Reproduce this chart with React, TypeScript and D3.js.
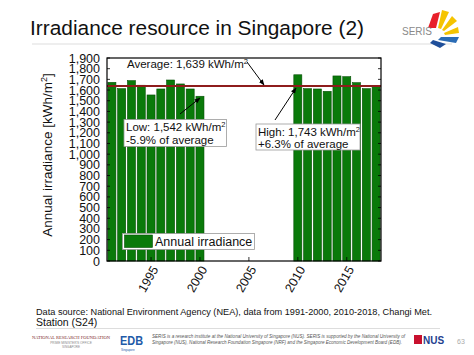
import React from "react";
import * as d3 from "d3";

const years = [1991,1992,1993,1994,1995,1996,1997,1998,1999,2000,2010,2011,2012,2013,2014,2015,2016,2017,2018];
const irradiance = [1672,1613,1688,1645,1554,1610,1694,1657,1610,1542,1743,1613,1610,1588,1732,1725,1669,1613,1644];
const average = 1639;
const yTicks = d3.range(0, 2000, 100);
const xTicks = [1995, 2000, 2005, 2010, 2015];

const FONT = "'Liberation Sans', Arial, Helvetica, sans-serif";

export default function App() {
  const W = 474, H = 355;
  const L = 107, R = 381, T = 58, B = 261;
  const x = d3.scaleLinear().domain([1990.5, 2018.5]).range([L, R]);
  const y = d3.scaleLinear().domain([0, 1900]).range([B, T]);
  const pitch = x(1) - x(0);
  const bw = pitch * 0.82;
  const fmt = d3.format(",");

  return (
    <svg width={W} height={H} style={{ position: "absolute", left: 0, top: 0, background: "#fff" }} fontFamily={FONT}>
      <defs>
        <marker id="ah" viewBox="0 0 10 10" refX="9" refY="5" markerWidth="6" markerHeight="6" orient="auto">
          <path d="M0,1 L10,5 L0,9 z" fill="#000" />
        </marker>
      </defs>
      <rect width={W} height={H} fill="#fff" />
      {/* Title */}
      <text x={30} y={35} fontSize={20.5} fill="#111" textLength={334} lengthAdjust="spacingAndGlyphs">Irradiance resource in Singapore (2)</text>
      <line x1={32} x2={452} y1={44} y2={44} stroke="#ddd" strokeWidth={1} />
      {/* SERIS logo */}
      <g>
        <path d="M428,28 L433,14 L440,12 L436,28 Z" fill="#e8202a" />
        <path d="M438,28 L442,10 L449,12 L441,29 Z" fill="#f5c400" />
        <path d="M442,30 L452,16 L457,21 L444,31 Z" fill="#f5c400" />
        <path d="M444,33 L458,27 L459,33 L445,35 Z" fill="#f5c400" />
        <path d="M441,37 L459,37 L456,43 L438,40 Z" fill="#2b6cb5" />
        <path d="M433,40 L446,44 L440,48 L430,43 Z" fill="#1f4f9a" />
        <text x={402} y={35} fontSize={10} fill="#8a8a8a">SERIS</text>
      </g>

      {/* Bars */}
      {years.map((yr, i) => (
        <rect key={yr} x={x(yr) - bw / 2} y={y(irradiance[i])} width={bw} height={B - y(irradiance[i])}
          fill="#0a7a0a" stroke="#064f06" strokeWidth={0.6} />
      ))}

      {/* Average line */}
      <line x1={L} x2={R} y1={y(average)} y2={y(average)} stroke="#8e1c1c" strokeWidth={2} />

      {/* Frame */}
      <rect x={L} y={T} width={R - L} height={B - T} fill="none" stroke="#000" strokeWidth={1.2} />

      {/* Y ticks */}
      {yTicks.map(t => (
        <g key={t}>
          <line x1={L} x2={L + 3} y1={y(t)} y2={y(t)} stroke="#000" strokeWidth={0.8} />
          <line x1={R} x2={R - 3} y1={y(t)} y2={y(t)} stroke="#000" strokeWidth={0.8} />
          <text x={100} y={y(t)} dy="0.36em" textAnchor="end" fontSize={12.5} fill="#111">{fmt(t)}</text>
        </g>
      ))}
      {/* X ticks */}
      {xTicks.map(t => (
        <g key={t}>
          <line x1={x(t)} x2={x(t)} y1={B} y2={B - 4} stroke="#000" strokeWidth={0.8} />
          <text transform={`translate(${x(t) + 4},${B + 6}) rotate(-60)`} textAnchor="end" dy="0.35em" fontSize={12.5} fill="#111">{t}</text>
        </g>
      ))}

      {/* Y label */}
      <text transform={`translate(52,155) rotate(-90)`} textAnchor="middle" fontSize={13.5} fill="#111">
        Annual irradiance [kWh/m<tspan dy={-5} fontSize={9}>2</tspan><tspan dy={5}>]</tspan>
      </text>

      {/* Average annotation */}
      <text x={127} y={68} fontSize={11.5} fill="#111">Average: 1,639 kWh/m<tspan dy={-4} fontSize={7.5}>2</tspan></text>
      <line x1={247} y1={62} x2={264} y2={85} stroke="#000" strokeWidth={1} markerEnd="url(#ah)" />

      {/* Low annotation */}
      <line x1={180} y1={114} x2={200} y2={98} stroke="#000" strokeWidth={1} markerEnd="url(#ah)" />
      <rect x={124} y={119.5} width={102.5} height={27} fill="#fff" stroke="#999" strokeWidth={0.8} />
      <text x={126} y={131} fontSize={11.5} fill="#111">Low: 1,542 kWh/m<tspan dy={-4} fontSize={7.5}>2</tspan></text>
      <text x={126} y={144} fontSize={11.5} fill="#111">-5.9% of average</text>

      {/* High annotation */}
      <line x1={275} y1={120} x2={296} y2={88} stroke="#000" strokeWidth={1} markerEnd="url(#ah)" />
      <rect x={256} y={124} width={104} height={26} fill="#fff" stroke="#999" strokeWidth={0.8} />
      <text x={258} y={135.5} fontSize={11.5} fill="#111">High: 1,743 kWh/m<tspan dy={-4} fontSize={7.5}>2</tspan></text>
      <text x={258} y={148} fontSize={11.5} fill="#111">+6.3% of average</text>

      {/* Legend */}
      <rect x={122.5} y={233.5} width={132} height={16} fill="#fff" stroke="#999" strokeWidth={0.8} />
      <rect x={124.5} y={235} width={28} height={12.5} fill="#0a7a0a" stroke="#064f06" strokeWidth={0.6} />
      <text x={155} y={245.5} fontSize={12.5} fill="#111">Annual irradiance</text>

      {/* Footer */}
      <text x={36} y={315} fontSize={9.6} fill="#111" textLength={396} lengthAdjust="spacingAndGlyphs">Data source: National Environment Agency (NEA), data from 1991-2000, 2010-2018, Changi Met.</text>
      <text x={36} y={326} fontSize={10.5} fill="#111">Station (S24)</text>
      <line x1={36} x2={440} y1={328.5} y2={328.5} stroke="#ddd" strokeWidth={1} />
      <text x={32} y={339} fontSize={5} fill="#7a1f2b" fontFamily="'Liberation Serif', serif" textLength={78} lengthAdjust="spacingAndGlyphs">NATIONAL RESEARCH FOUNDATION</text>
      <text x={71} y={344} fontSize={3.2} fill="#888" textAnchor="middle">PRIME MINISTER'S OFFICE</text>
      <text x={71} y={348} fontSize={3} fill="#888" textAnchor="middle">SINGAPORE</text>
      <text x={120} y={345} fontSize={13} fontWeight="bold" fill="#1f5ba8" textLength={23} lengthAdjust="spacingAndGlyphs">EDB</text>
      <text x={121} y={350.5} fontSize={3} fill="#1f5ba8">Singapore</text>
      <text x={152} y={338} fontSize={4.6} fontStyle="italic" fill="#555" textLength={253} lengthAdjust="spacingAndGlyphs">SERIS is a research institute at the National University of Singapore (NUS). SERIS is supported by the National University of</text>
      <text x={152} y={344} fontSize={4.6} fontStyle="italic" fill="#555" textLength={250} lengthAdjust="spacingAndGlyphs">Singapore (NUS), National Research Foundation Singapore (NRF) and the Singapore Economic Development Board (EDB).</text>
      <rect x={414} y={335} width={8} height={9} fill="#c8102e" />
      <text x={423} y={344} fontSize={10} fontWeight="bold" fill="#1f3f8f">NUS</text>
      <text x={457} y={344} fontSize={7} fill="#aaa">63</text>
    </svg>
  );
}
